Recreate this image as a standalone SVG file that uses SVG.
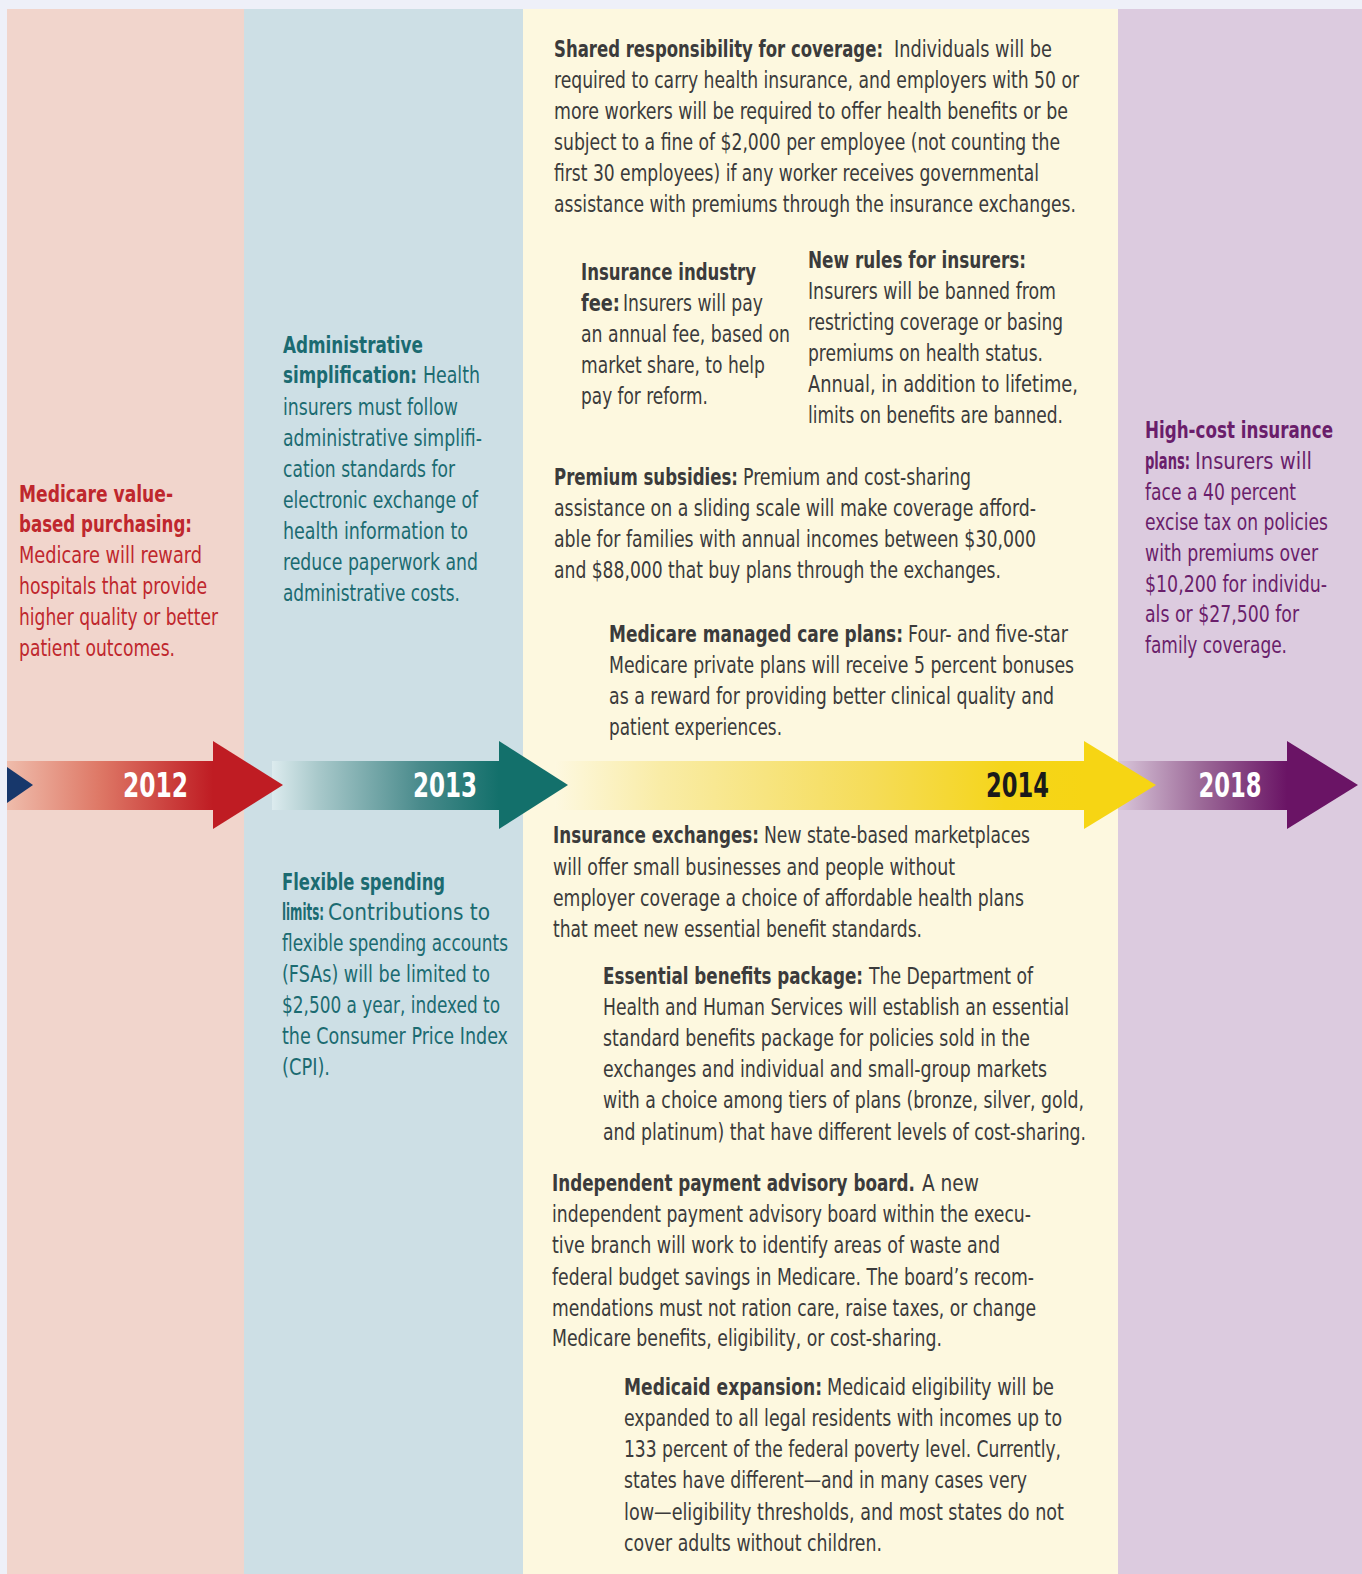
<svg xmlns="http://www.w3.org/2000/svg" width="1362" height="1574" viewBox="0 0 1362 1574">
  <defs>
    <style>
      .t { font-family: 'Liberation Sans Narrow', 'DejaVu Sans Condensed', 'Liberation Sans', sans-serif; font-size: 23px; }
      .h { font-weight: bold; }
      .g { fill: #3b3b3b; }
      .red { fill: #bf272d; }
      .teal { fill: #1b6b71; }
      .pur { fill: #6a1e6b; }
      .yr { font-family: 'Liberation Sans Narrow', 'DejaVu Sans Condensed', 'Liberation Sans', sans-serif; font-size: 34px; font-weight: bold; text-anchor: middle; }
    </style>
    <linearGradient id="gRed" gradientUnits="userSpaceOnUse" x1="7" y1="0" x2="213" y2="0">
      <stop offset="0" stop-color="#efbcab"/>
      <stop offset="0.45" stop-color="#de7866"/>
      <stop offset="1" stop-color="#bf1c23"/>
    </linearGradient>
    <linearGradient id="gTeal" gradientUnits="userSpaceOnUse" x1="272" y1="0" x2="499" y2="0">
      <stop offset="0" stop-color="#dcebee"/>
      <stop offset="0.2" stop-color="#a9c9cb"/>
      <stop offset="0.65" stop-color="#4a8b8c"/>
      <stop offset="1" stop-color="#13706b"/>
    </linearGradient>
    <linearGradient id="gYellow" gradientUnits="userSpaceOnUse" x1="555" y1="0" x2="1084" y2="0">
      <stop offset="0" stop-color="#fdf8e0"/>
      <stop offset="0.2" stop-color="#f9eca6"/>
      <stop offset="0.6" stop-color="#f5dc58"/>
      <stop offset="0.85" stop-color="#f5d51a"/>
      <stop offset="1" stop-color="#f6d514"/>
    </linearGradient>
    <linearGradient id="gPurple" gradientUnits="userSpaceOnUse" x1="1118" y1="0" x2="1287" y2="0">
      <stop offset="0" stop-color="#d9c6da"/>
      <stop offset="0.5" stop-color="#9b6897"/>
      <stop offset="1" stop-color="#6a1465"/>
    </linearGradient>
  </defs>

  <!-- page frame and year columns -->
  <rect x="0" y="0" width="1362" height="1574" fill="#eef0f8"/>
  <rect x="7" y="9" width="237" height="1565" fill="#f1d5cc"/>
  <rect x="244" y="9" width="279" height="1565" fill="#cddfe5"/>
  <rect x="523" y="9" width="595" height="1565" fill="#fdf8df"/>
  <rect x="1118" y="9" width="244" height="1565" fill="#dccbdf"/>

  <!-- timeline arrows: shafts first, heads on top -->
  <g id="timeline-arrows">
    <rect x="7" y="761" width="207" height="49" fill="url(#gRed)"/>
    <rect x="272" y="761" width="228" height="49" fill="url(#gTeal)"/>
    <rect x="555" y="761" width="530" height="49" fill="url(#gYellow)"/>
    <rect x="1118" y="761" width="170" height="49" fill="url(#gPurple)"/>
    <polygon points="7,767 33,785 7,803" fill="#17376b"/>
    <polygon points="213,741 283,785 213,829" fill="#bf1c23"/>
    <polygon points="499,741 568,785 499,829" fill="#13706b"/>
    <polygon points="1084,741 1156,785 1084,829" fill="#f6d514"/>
    <polygon points="1287,741 1358,785 1287,829" fill="#6a1465"/>
  </g>

  <!-- year labels -->
  <g id="year-2012"><text class="yr" x="155.5" y="797" fill="#ffffff" textLength="65" lengthAdjust="spacingAndGlyphs">2012</text></g>
  <g id="year-2013"><text class="yr" x="445" y="797" fill="#ffffff" textLength="64" lengthAdjust="spacingAndGlyphs">2013</text></g>
  <g id="year-2014"><text class="yr" x="1017.5" y="797" fill="#1a1a1a" textLength="63" lengthAdjust="spacingAndGlyphs">2014</text></g>
  <g id="year-2018"><text class="yr" x="1230" y="797" fill="#ffffff" textLength="63" lengthAdjust="spacingAndGlyphs">2018</text></g>

  <!-- 2012 -->
  <g id="medicare-value-based-purchasing">
    <text class="t h red" x="19" y="502" textLength="154" lengthAdjust="spacingAndGlyphs">Medicare value-</text>
    <text class="t h red" x="19" y="532" textLength="173" lengthAdjust="spacingAndGlyphs">based purchasing:</text>
    <text class="t red" x="19" y="563" textLength="183" lengthAdjust="spacingAndGlyphs">Medicare will reward</text>
    <text class="t red" x="19" y="594" textLength="188" lengthAdjust="spacingAndGlyphs">hospitals that provide</text>
    <text class="t red" x="19" y="625" textLength="199" lengthAdjust="spacingAndGlyphs">higher quality or better</text>
    <text class="t red" x="19" y="656" textLength="156" lengthAdjust="spacingAndGlyphs">patient outcomes.</text>
  </g>

  <!-- 2013 -->
  <g id="administrative-simplification">
    <text class="t h teal" x="283" y="353" textLength="140" lengthAdjust="spacingAndGlyphs">Administrative</text>
    <text class="t teal" y="383"><tspan class="h" x="283" textLength="134" lengthAdjust="spacingAndGlyphs">simplification:</tspan><tspan x="423" textLength="57" lengthAdjust="spacingAndGlyphs">Health</tspan></text>
    <text class="t teal" x="283" y="415" textLength="175" lengthAdjust="spacingAndGlyphs">insurers must follow</text>
    <text class="t teal" x="283" y="446" textLength="199" lengthAdjust="spacingAndGlyphs">administrative simplifi-</text>
    <text class="t teal" x="283" y="477" textLength="172" lengthAdjust="spacingAndGlyphs">cation standards for</text>
    <text class="t teal" x="283" y="508" textLength="195" lengthAdjust="spacingAndGlyphs">electronic exchange of</text>
    <text class="t teal" x="283" y="539" textLength="185" lengthAdjust="spacingAndGlyphs">health information to</text>
    <text class="t teal" x="283" y="570" textLength="195" lengthAdjust="spacingAndGlyphs">reduce paperwork and</text>
    <text class="t teal" x="283" y="601" textLength="177" lengthAdjust="spacingAndGlyphs">administrative costs.</text>
  </g>

  <g id="flexible-spending-limits">
    <text class="t h teal" x="282" y="890" textLength="163" lengthAdjust="spacingAndGlyphs">Flexible spending</text>
    <text class="t teal" y="920"><tspan class="h" x="282" textLength="42" lengthAdjust="spacingAndGlyphs">limits:</tspan><tspan x="328" textLength="162" lengthAdjust="spacingAndGlyphs">Contributions to</tspan></text>
    <text class="t teal" x="282" y="951" textLength="226" lengthAdjust="spacingAndGlyphs">flexible spending accounts</text>
    <text class="t teal" x="282" y="982" textLength="208" lengthAdjust="spacingAndGlyphs">(FSAs) will be limited to</text>
    <text class="t teal" x="282" y="1013" textLength="218" lengthAdjust="spacingAndGlyphs">$2,500 a year, indexed to</text>
    <text class="t teal" x="282" y="1044" textLength="226" lengthAdjust="spacingAndGlyphs">the Consumer Price Index</text>
    <text class="t teal" x="282" y="1075" textLength="48" lengthAdjust="spacingAndGlyphs">(CPI).</text>
  </g>

  <!-- 2014 -->
  <g id="shared-responsibility">
    <text class="t g" y="57"><tspan class="h" x="554" textLength="329" lengthAdjust="spacingAndGlyphs">Shared responsibility for coverage:</tspan><tspan x="894" textLength="158" lengthAdjust="spacingAndGlyphs">Individuals will be</tspan></text>
    <text class="t g" x="554" y="88" textLength="525" lengthAdjust="spacingAndGlyphs">required to carry health insurance, and employers with 50 or</text>
    <text class="t g" x="554" y="119" textLength="514" lengthAdjust="spacingAndGlyphs">more workers will be required to offer health benefits or be</text>
    <text class="t g" x="554" y="150" textLength="506" lengthAdjust="spacingAndGlyphs">subject to a fine of $2,000 per employee (not counting the</text>
    <text class="t g" x="554" y="181" textLength="485" lengthAdjust="spacingAndGlyphs">first 30 employees) if any worker receives governmental</text>
    <text class="t g" x="554" y="212" textLength="522" lengthAdjust="spacingAndGlyphs">assistance with premiums through the insurance exchanges.</text>
  </g>

  <g id="insurance-industry-fee">
    <text class="t h g" x="581" y="280" textLength="175" lengthAdjust="spacingAndGlyphs">Insurance industry</text>
    <text class="t g" y="311"><tspan class="h" x="581" textLength="39" lengthAdjust="spacingAndGlyphs">fee:</tspan><tspan x="623" textLength="140" lengthAdjust="spacingAndGlyphs">Insurers will pay</tspan></text>
    <text class="t g" x="581" y="342" textLength="209" lengthAdjust="spacingAndGlyphs">an annual fee, based on</text>
    <text class="t g" x="581" y="373" textLength="184" lengthAdjust="spacingAndGlyphs">market share, to help</text>
    <text class="t g" x="581" y="404" textLength="127" lengthAdjust="spacingAndGlyphs">pay for reform.</text>
  </g>

  <g id="new-rules-for-insurers">
    <text class="t h g" x="808" y="268" textLength="218" lengthAdjust="spacingAndGlyphs">New rules for insurers:</text>
    <text class="t g" x="808" y="299" textLength="248" lengthAdjust="spacingAndGlyphs">Insurers will be banned from</text>
    <text class="t g" x="808" y="330" textLength="255" lengthAdjust="spacingAndGlyphs">restricting coverage or basing</text>
    <text class="t g" x="808" y="361" textLength="235" lengthAdjust="spacingAndGlyphs">premiums on health status.</text>
    <text class="t g" x="808" y="392" textLength="270" lengthAdjust="spacingAndGlyphs">Annual, in addition to lifetime,</text>
    <text class="t g" x="808" y="423" textLength="255" lengthAdjust="spacingAndGlyphs">limits on benefits are banned.</text>
  </g>

  <g id="premium-subsidies">
    <text class="t g" y="485"><tspan class="h" x="554" textLength="184" lengthAdjust="spacingAndGlyphs">Premium subsidies:</tspan><tspan x="743" textLength="228" lengthAdjust="spacingAndGlyphs">Premium and cost-sharing</tspan></text>
    <text class="t g" x="554" y="516" textLength="482" lengthAdjust="spacingAndGlyphs">assistance on a sliding scale will make coverage afford-</text>
    <text class="t g" x="554" y="547" textLength="482" lengthAdjust="spacingAndGlyphs">able for families with annual incomes between $30,000</text>
    <text class="t g" x="554" y="578" textLength="447" lengthAdjust="spacingAndGlyphs">and $88,000 that buy plans through the exchanges.</text>
  </g>

  <g id="medicare-managed-care-plans">
    <text class="t g" y="642"><tspan class="h" x="609" textLength="294" lengthAdjust="spacingAndGlyphs">Medicare managed care plans:</tspan><tspan x="908" textLength="160" lengthAdjust="spacingAndGlyphs">Four- and five-star</tspan></text>
    <text class="t g" x="609" y="673" textLength="465" lengthAdjust="spacingAndGlyphs">Medicare private plans will receive 5 percent bonuses</text>
    <text class="t g" x="609" y="704" textLength="445" lengthAdjust="spacingAndGlyphs">as a reward for providing better clinical quality and</text>
    <text class="t g" x="609" y="735" textLength="173" lengthAdjust="spacingAndGlyphs">patient experiences.</text>
  </g>

  <g id="insurance-exchanges">
    <text class="t g" y="843"><tspan class="h" x="553" textLength="206" lengthAdjust="spacingAndGlyphs">Insurance exchanges:</tspan><tspan x="764" textLength="266" lengthAdjust="spacingAndGlyphs">New state-based marketplaces</tspan></text>
    <text class="t g" x="553" y="875" textLength="402" lengthAdjust="spacingAndGlyphs">will offer small businesses and people without</text>
    <text class="t g" x="553" y="906" textLength="471" lengthAdjust="spacingAndGlyphs">employer coverage a choice of affordable health plans</text>
    <text class="t g" x="553" y="937" textLength="369" lengthAdjust="spacingAndGlyphs">that meet new essential benefit standards.</text>
  </g>

  <g id="essential-benefits-package">
    <text class="t g" y="984"><tspan class="h" x="603" textLength="260" lengthAdjust="spacingAndGlyphs">Essential benefits package:</tspan><tspan x="869" textLength="164" lengthAdjust="spacingAndGlyphs">The Department of</tspan></text>
    <text class="t g" x="603" y="1015" textLength="466" lengthAdjust="spacingAndGlyphs">Health and Human Services will establish an essential</text>
    <text class="t g" x="603" y="1046" textLength="427" lengthAdjust="spacingAndGlyphs">standard benefits package for policies sold in the</text>
    <text class="t g" x="603" y="1077" textLength="444" lengthAdjust="spacingAndGlyphs">exchanges and individual and small-group markets</text>
    <text class="t g" x="603" y="1108" textLength="481" lengthAdjust="spacingAndGlyphs">with a choice among tiers of plans (bronze, silver, gold,</text>
    <text class="t g" x="603" y="1140" textLength="483" lengthAdjust="spacingAndGlyphs">and platinum) that have different levels of cost-sharing.</text>
  </g>

  <g id="independent-payment-advisory-board">
    <text class="t g" y="1191"><tspan class="h" x="552" textLength="363" lengthAdjust="spacingAndGlyphs">Independent payment advisory board.</tspan><tspan x="922" textLength="57" lengthAdjust="spacingAndGlyphs">A new</tspan></text>
    <text class="t g" x="552" y="1222" textLength="479" lengthAdjust="spacingAndGlyphs">independent payment advisory board within the execu-</text>
    <text class="t g" x="552" y="1253" textLength="448" lengthAdjust="spacingAndGlyphs">tive branch will work to identify areas of waste and</text>
    <text class="t g" x="552" y="1285" textLength="482" lengthAdjust="spacingAndGlyphs">federal budget savings in Medicare. The board’s recom-</text>
    <text class="t g" x="552" y="1316" textLength="484" lengthAdjust="spacingAndGlyphs">mendations must not ration care, raise taxes, or change</text>
    <text class="t g" x="552" y="1346" textLength="390" lengthAdjust="spacingAndGlyphs">Medicare benefits, eligibility, or cost-sharing.</text>
  </g>

  <g id="medicaid-expansion">
    <text class="t g" y="1395"><tspan class="h" x="624" textLength="198" lengthAdjust="spacingAndGlyphs">Medicaid expansion:</tspan><tspan x="827" textLength="227" lengthAdjust="spacingAndGlyphs">Medicaid eligibility will be</tspan></text>
    <text class="t g" x="624" y="1426" textLength="438" lengthAdjust="spacingAndGlyphs">expanded to all legal residents with incomes up to</text>
    <text class="t g" x="624" y="1457" textLength="437" lengthAdjust="spacingAndGlyphs">133 percent of the federal poverty level. Currently,</text>
    <text class="t g" x="624" y="1488" textLength="403" lengthAdjust="spacingAndGlyphs">states have different—and in many cases very</text>
    <text class="t g" x="624" y="1520" textLength="440" lengthAdjust="spacingAndGlyphs">low—eligibility thresholds, and most states do not</text>
    <text class="t g" x="624" y="1551" textLength="258" lengthAdjust="spacingAndGlyphs">cover adults without children.</text>
  </g>

  <!-- 2018 -->
  <g id="high-cost-insurance-plans">
    <text class="t h pur" x="1145" y="438" textLength="188" lengthAdjust="spacingAndGlyphs">High-cost insurance</text>
    <text class="t pur" y="469"><tspan class="h" x="1145" textLength="45" lengthAdjust="spacingAndGlyphs">plans:</tspan><tspan x="1195" textLength="117" lengthAdjust="spacingAndGlyphs">Insurers will</tspan></text>
    <text class="t pur" x="1145" y="500" textLength="151" lengthAdjust="spacingAndGlyphs">face a 40 percent</text>
    <text class="t pur" x="1145" y="530" textLength="183" lengthAdjust="spacingAndGlyphs">excise tax on policies</text>
    <text class="t pur" x="1145" y="561" textLength="173" lengthAdjust="spacingAndGlyphs">with premiums over</text>
    <text class="t pur" x="1145" y="592" textLength="182" lengthAdjust="spacingAndGlyphs">$10,200 for individu-</text>
    <text class="t pur" x="1145" y="622" textLength="154" lengthAdjust="spacingAndGlyphs">als or $27,500 for</text>
    <text class="t pur" x="1145" y="653" textLength="142" lengthAdjust="spacingAndGlyphs">family coverage.</text>
  </g>
</svg>
